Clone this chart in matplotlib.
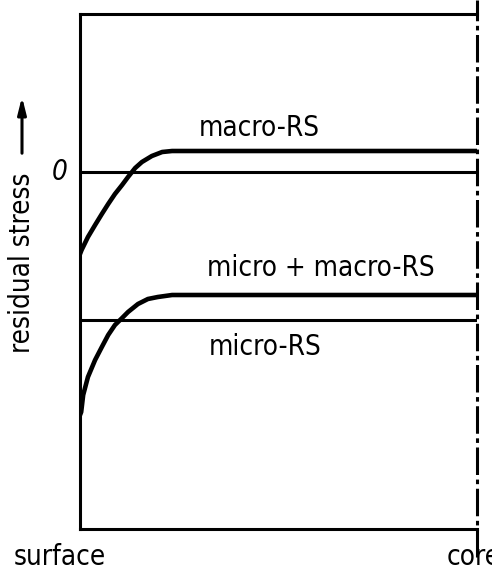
import matplotlib

matplotlib.use("Agg")
import matplotlib.pyplot as plt

W, H = 492, 570

# depth from surface (0) to core (1); stress in arbitrary units (0 = zero stress)
macro_depth = [0, 0.004, 0.020, 0.038, 0.055, 0.071, 0.088, 0.106, 0.121, 0.139,
               0.156, 0.181, 0.207, 0.232, 1.0]
macro_stress = [-0.82, -0.78, -0.65, -0.53, -0.42, -0.32, -0.22, -0.13, -0.05, 0.04,
                0.10, 0.16, 0.20, 0.21, 0.21]

sum_depth = [0, 0.003, 0.008, 0.020, 0.038, 0.055, 0.071, 0.088, 0.106, 0.121,
             0.146, 0.171, 0.196, 0.232, 1.0]
sum_stress = [-2.43, -2.40, -2.23, -2.05, -1.88, -1.75, -1.63, -1.53, -1.46, -1.40,
              -1.32, -1.27, -1.25, -1.23, -1.23]

micro_depth = [0, 1.0]
micro_stress = [-1.48, -1.48]

zero_depth = [0, 1.0]
zero_stress = [0, 0]

labels = ["macro-RS", "micro + macro-RS", "micro-RS"]

plt.rcParams["font.family"] = ["DejaVu Sans"]
plt.rcParams["font.stretch"] = "condensed"


def px(x, y):
    return x / W, 1 - y / H


fig = plt.figure(figsize=(W / 100, H / 100), dpi=100)
ax = fig.add_axes([80 / W, (H - 529) / H, 397 / W, 515 / H])
ax.set_xlim(0, 1)
ax.set_ylim(-3.57, 1.58)

ax.plot(zero_depth, zero_stress, color="black", lw=2.2, solid_capstyle="butt")
ax.plot(micro_depth, micro_stress, color="black", lw=2.2, solid_capstyle="butt")
ax.plot(macro_depth, macro_stress, color="black", lw=3.3, solid_joinstyle="round")
ax.plot(sum_depth, sum_stress, color="black", lw=3.3, solid_joinstyle="round")

for side in ["left", "bottom", "top"]:
    ax.spines[side].set_linewidth(2.2)
ax.spines["right"].set_visible(False)
ax.axvline(1.0, ymin=-0.054, ymax=1.027, color="black", lw=2.2,
           dashes=(9, 1.5, 1.5, 1.5), clip_on=False)
ax.set_xticks([])
ax.set_yticks([])

fs = 20
fig.text(*px(259, 128), labels[0], fontsize=fs, ha="center", va="center")
fig.text(*px(321, 268), labels[1], fontsize=fs, ha="center", va="center")
fig.text(*px(265, 347), labels[2], fontsize=fs, ha="center", va="center")

fig.text(*px(60, 172), "0", fontsize=fs, style="italic", ha="center", va="center")
fig.text(*px(60, 557), "surface", fontsize=fs, ha="center", va="center")
fig.text(*px(447, 557), "core", fontsize=fs, ha="left", va="center")

fig.text(*px(22, 263), "residual stress", fontsize=fs, rotation=90, ha="center", va="center")
ax.annotate("", xy=px(22, 94), xytext=px(22, 156), xycoords="figure fraction",
            textcoords="figure fraction",
            arrowprops=dict(arrowstyle="-|>,head_length=1.0,head_width=0.25",
                            color="black", lw=2.2))

fig.savefig("out.png", dpi=100)
